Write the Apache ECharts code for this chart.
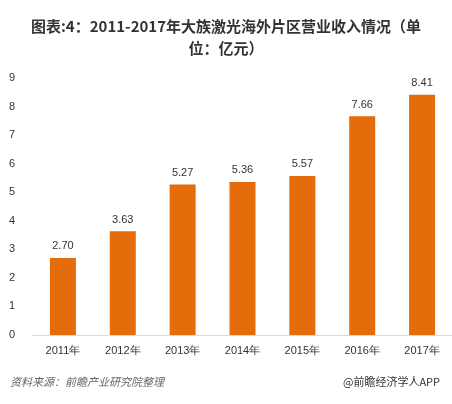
<!DOCTYPE html><html><head><meta charset="utf-8"><script src="https://cdn.jsdelivr.net/npm/echarts@6/dist/echarts.min.js"></script>
<style>body{margin:0}#c{width:452px;height:404px}</style></head><body><div id="c"></div><script>
const categories=['2011年','2012年','2013年','2014年','2015年','2016年','2017年'];
const values=[2.70,3.63,5.27,5.36,5.57,7.66,8.41];
const chart=echarts.init(document.getElementById('c'));
chart.setOption({
title:{text:'图表:4：2011-2017年大族激光海外片区营业收入情况（单\n位：亿元）',left:'center',top:10,textStyle:{fontSize:15,fontWeight:'bold',color:'#333',lineHeight:22,fontFamily:'Noto Sans CJK SC'}},
graphic:[{type:'text',left:10,top:376,style:{text:'资料来源：前瞻产业研究院整理',fill:'#666',font:'italic 11px "Noto Sans CJK SC"'}},
{type:'text',right:12,top:376,style:{text:'@前瞻经济学人APP',fill:'#333',font:'11px "Noto Sans CJK SC"'}}],
grid:{left:33,right:-4,top:78,bottom:69},
xAxis:{type:'category',data:categories,axisTick:{show:false},axisLine:{lineStyle:{color:'#d9d9d9'}},axisLabel:{color:'#333',fontSize:11,margin:10}},
yAxis:{type:'value',min:0,max:9,interval:1,splitLine:{show:false},axisLine:{show:false},axisLabel:{color:'#333',fontSize:11,margin:18}},
series:[{type:'bar',data:values,barWidth:26,itemStyle:{color:'#E46C0A'},label:{show:true,position:'top',color:'#333',fontSize:11,formatter:p=>p.value.toFixed(2),distance:6}}]
});
</script></body></html>
